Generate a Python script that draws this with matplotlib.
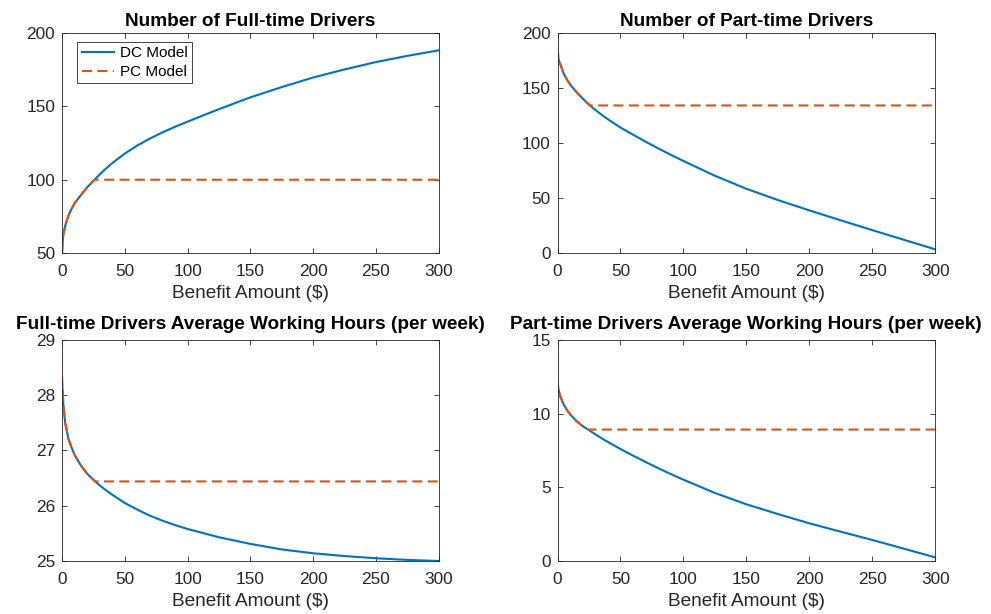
import matplotlib
matplotlib.use('Agg')
import matplotlib.pyplot as plt

# Benefit amounts ($) at which the model outputs were sampled
benefit = [0, 0.5, 1, 2.5, 5, 7.5, 10, 15, 20, 25, 30, 35, 40, 50, 60, 70, 80, 90, 100,
           125, 150, 175, 200, 225, 250, 275, 300]

# Number of full-time drivers
ft_num_dc = [50, 58, 62.5, 68.5, 75.5, 80, 84, 89.5, 94.8, 99.3, 103.6, 107.6, 111.3, 117.8,
             123.3, 128, 132.2, 136, 139.5, 148, 156, 163, 169.5, 175, 180, 184.2, 188]
ft_num_pc_x = [0, 0.5, 1, 2.5, 5, 7.5, 10, 15, 20, 25, 26.5, 300]
ft_num_pc = [50, 58, 62.5, 68.5, 75.5, 80, 84, 89.5, 94.8, 99.3, 100, 100]

# Number of part-time drivers
pt_num_dc = [181, 178, 175, 170.5, 162.5, 157.5, 153, 146.2, 140.3, 134.7, 130, 125.6, 121.5,
             114, 107.5, 101.2, 95.1, 89.3, 83.7, 70.3, 58.5, 48.3, 38.9, 29.9, 21, 12.3, 3.6]
pt_num_pc_x = [0, 0.5, 1, 2.5, 5, 7.5, 10, 15, 20, 25, 26.2, 300]
pt_num_pc = [187, 180, 176, 170.5, 162.5, 157.5, 153, 146.2, 140.3, 134.7, 134, 134]

# Full-time drivers average working hours per week
ft_hrs_dc = [28.2, 28.08, 27.85, 27.5, 27.22, 27.06, 26.92, 26.73, 26.58, 26.47, 26.37, 26.28,
             26.2, 26.05, 25.93, 25.82, 25.73, 25.65, 25.58, 25.43, 25.31, 25.21, 25.14, 25.09,
             25.05, 25.02, 25.0]
ft_hrs_pc_x = [0, 0.5, 1, 2.5, 5, 7.5, 10, 15, 20, 25, 26, 300]
ft_hrs_pc = [28.35, 28.1, 27.85, 27.5, 27.22, 27.06, 26.92, 26.73, 26.58, 26.47, 26.44, 26.44]

# Part-time drivers average working hours per week
pt_hrs_dc = [12.05, 11.8, 11.55, 11.1, 10.6, 10.25, 9.95, 9.5, 9.15, 8.88, 8.6, 8.33, 8.08,
             7.6, 7.15, 6.72, 6.3, 5.9, 5.52, 4.62, 3.85, 3.19, 2.56, 1.99, 1.43, 0.84, 0.25]
pt_hrs_pc_x = [0, 0.5, 1, 2.5, 5, 7.5, 10, 15, 20, 24.5, 300]
pt_hrs_pc = [12.45, 11.85, 11.55, 11.1, 10.6, 10.25, 9.95, 9.5, 9.15, 8.92, 8.92]

BLUE = '#0072BD'
ORANGE = '#D95319'
AX_GRAY = '#262626'

plt.rcParams['font.family'] = ['Liberation Sans', 'DejaVu Sans']

fig = plt.figure(figsize=(9.91, 6.14), dpi=100)

positions = [
    [0.0626, 0.5875, 0.380, 0.3593],
    [0.5626, 0.5875, 0.381, 0.3593],
    [0.0626, 0.0863, 0.380, 0.3600],
    [0.5626, 0.0863, 0.381, 0.3600],
]

panels = [
    ('Number of Full-time Drivers', ft_num_dc, ft_num_pc_x, ft_num_pc, (50, 200), [50, 100, 150, 200]),
    ('Number of Part-time Drivers', pt_num_dc, pt_num_pc_x, pt_num_pc, (0, 200), [0, 50, 100, 150, 200]),
    ('Full-time Drivers Average Working Hours (per week)', ft_hrs_dc, ft_hrs_pc_x, ft_hrs_pc, (25, 29), [25, 26, 27, 28, 29]),
    ('Part-time Drivers Average Working Hours (per week)', pt_hrs_dc, pt_hrs_pc_x, pt_hrs_pc, (0, 15), [0, 5, 10, 15]),
]

for i, (title, dc, pc_x, pc, ylim, yticks) in enumerate(panels):
    ax = fig.add_axes(positions[i])
    ax.plot(benefit, dc, color=BLUE, linewidth=1.5, label='DC Model')
    ax.plot(pc_x, pc, color=ORANGE, linewidth=1.5, linestyle=(0, (4.8, 2.6)), label='PC Model')
    ax.set_xlim(0, 300)
    ax.set_ylim(*ylim)
    ax.set_xticks([0, 50, 100, 150, 200, 250, 300])
    ax.set_yticks(yticks)
    ax.tick_params(direction='in', top=True, right=True, length=3.6, width=0.6,
                   colors=AX_GRAY, labelsize=12.4, labelcolor=AX_GRAY)
    ax.tick_params(axis='x', pad=8)
    ax.tick_params(axis='y', pad=5)
    for spine in ax.spines.values():
        spine.set_color(AX_GRAY)
        spine.set_linewidth(0.6)
    # the long titles of the lower row sit a little higher so they clear the top y label
    ax.set_title(title, fontsize=13.7, fontweight='bold', pad=4.5 if i < 2 else 8)
    ax.set_xlabel(r'Benefit Amount (\$)', fontsize=13.7, color=AX_GRAY, labelpad=4)
    if i == 0:
        leg = ax.legend(loc='upper left', bbox_to_anchor=(0.0407, 0.959), borderaxespad=0,
                        fontsize=11, fancybox=False, framealpha=1, edgecolor=AX_GRAY,
                        handlelength=2.07, borderpad=0.3, labelspacing=0.3,
                        handletextpad=0.4)
        leg.get_frame().set_linewidth(0.6)

fig.savefig('out.png', dpi=100)
